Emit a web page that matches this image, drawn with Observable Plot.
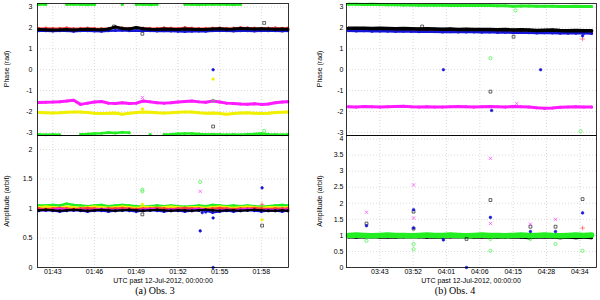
<!DOCTYPE html>
<html><head><meta charset="utf-8">
<script src="https://cdn.jsdelivr.net/npm/d3@7"></script>
<script src="https://cdn.jsdelivr.net/npm/@observablehq/plot@0.6"></script>
<style>
body{margin:0;background:#fff;}
#fig{position:relative;width:600px;height:300px;overflow:hidden;background:#fff;font-family:"Liberation Sans",Arial,sans-serif;}
.p{position:absolute;}
.lab{position:absolute;font-size:7px;white-space:nowrap;transform:translate(-50%,-50%);color:#000;}
.ylab{transform:translate(-50%,-50%) rotate(-90deg);}
.cap{position:absolute;font-family:"Liberation Serif","Times New Roman",serif;font-size:10px;white-space:nowrap;transform:translate(-50%,-50%);color:#000;}
</style></head>
<body><div id="fig"></div>
<script>
// ---------- tick labels ----------
const phaseTicks = [-3,-2,-1,0,1,2,3];
const leftAmpTicks = [0,0.5,1,1.5,2];
const rightAmpTicks = [0,0.5,1,1.5,2,2.5,3,3.5,4];
const leftXTicks = [3,6,9,12,15,18];            // minutes after 01:40
const leftXLabels = ["01:43","01:46","01:49","01:52","01:55","01:58"];
const rightXTicks = [43,51.5,60,68.5,77,85.5,94]; // minutes after 03:00
const rightXLabels = ["03:43","03:52","04:01","04:06","04:15","04:28","04:34"];

// ---------- Obs. 3 sample times (min after 01:40) ----------
const leftT = [2,2.5,3,3.5,4,4.5,5,5.5,6,6.5,7,7.5,8,8.5,9,9.5,10,10.5,11,11.5,12,12.5,13,13.5,14,14.5,15,15.5,16,16.5,17,17.5,18,18.5,19,19.5,19.9];

// Obs. 3 phase (rad)
const l_ph_greenTop = [3.12,3.12,null,null,3.12,3.13,3.12,3.11,3.12,null, null,null,3.12,null,3.12,3.12,3.11,3.12,null,null, null,3.12,3.12,3.11,3.12,3.12,3.13,3.12,3.11,3.12, null,null,null,null,null,null,null];
const l_ph_greenBot = [-3.10,-3.11,-3.10,-3.11,null,null,-3.09,-3.08,-3.06,-3.04, -3.01,-3.03,-3.00,-3.02,null,null,-3.10,null,-3.10,-3.09, -3.07,-3.05,-3.06,-3.08,-3.10,-3.09,-3.10,-3.11,-3.10,-3.11, -3.09,-3.08,-3.06,-3.09,-3.10,-3.11,-3.10];
const l_ph_red = [1.99,2.00,1.98,1.99,2.01,1.97,1.99,2.00,1.98,1.97, 1.99,2.02,2.01,1.99,2.01,2.00,1.98,1.99,2.01,2.00, 1.99,2.02,2.00,1.99,1.98,2.00,2.01,1.99,2.00,2.02, 2.01,2.00,1.99,2.00,2.01,1.99,2.00];
const l_ph_black = [1.92,1.91,1.90,1.91,1.93,1.90,1.92,1.94,1.92,1.91, 1.95,2.05,1.97,1.95,2.02,1.96,1.94,1.93,1.95,1.94, 1.93,1.95,1.94,1.92,1.93,1.95,1.96,1.94,1.95,1.97, 1.96,1.95,1.96,1.95,1.94,1.95,1.94];
const l_ph_blue = [1.87,1.86,1.85,1.86,1.87,1.84,1.86,1.87,1.85,1.84, 1.86,1.88,1.89,1.87,1.88,1.87,1.86,1.85,1.86,1.85, 1.84,1.83,1.84,1.85,1.84,1.86,1.87,1.86,1.85,1.87, 1.86,1.85,1.86,1.87,1.86,1.85,1.86];
const l_ph_magenta = [-1.57,-1.56,-1.55,-1.53,-1.50,-1.46,-1.66,-1.60,-1.55,-1.52, -1.60,-1.62,-1.58,-1.62,-1.60,-1.50,-1.54,-1.58,-1.60,-1.58, -1.55,-1.52,-1.50,-1.54,-1.56,-1.50,-1.55,-1.60,-1.62,-1.64, -1.65,-1.63,-1.66,-1.64,-1.58,-1.55,-1.54];
const l_ph_yellow = [-2.05,-2.06,-2.07,-2.06,-2.04,-2.02,-2.02,-2.05,-2.08,-2.10, -2.09,-2.07,-2.13,-2.09,-2.05,-2.03,-2.04,-2.06,-2.07,-2.06, -2.04,-2.02,-2.03,-2.06,-2.08,-2.07,-2.10,-2.13,-2.10,-2.07, -2.06,-2.08,-2.10,-2.08,-2.05,-2.04,-2.03];
const l_ph_outT = [18.2,9.44,7.4,14.53,14.53,9.44,9.44,14.53,18.2,14.53];
const l_ph_outV = [2.24,1.72,2.07,0,-0.45,-1.33,-1.88,-2.72,-2.93,-1.48];
const l_ph_outS = ["black","black","black","blue","yellow","magenta","yellow","black","green","green"];

// Obs. 3 amplitude (arbit)
const l_am_green = [1.05,1.05,1.06,1.05,1.08,1.06,1.05,1.04,1.05,1.06, 1.04,1.05,1.06,1.05,1.04,1.03,1.04,1.05,1.04,1.05, 1.04,1.03,1.04,1.05,1.04,1.06,1.05,1.04,1.05,1.04, 1.05,1.04,1.03,1.04,1.05,1.06,1.05];
const l_am_yellow = [1.02,1.03,1.02,1.01,1.03,1.02,1.01,1.02,1.03,1.02, 1.01,1.02,1.03,1.02,1.01,1.02,1.02,1.01,1.02,1.03, 1.02,1.01,1.02,1.02,1.01,1.02,1.03,1.02,1.01,1.02, 1.03,1.02,1.01,1.02,1.02,1.01,1.02];
const l_am_red = [1.00,0.99,1.00,1.01,1.00,0.99,1.00,1.01,1.00,0.99, 1.00,1.00,1.01,1.00,0.99,1.00,1.00,1.01,1.00,0.99, 1.00,1.01,1.00,1.00,0.99,1.00,1.01,1.00,0.99,1.00, 1.00,1.01,1.00,0.99,1.00,1.00,1.00];
const l_am_magenta = [0.98,0.97,0.98,0.99,0.98,0.97,0.98,0.97,0.98,0.99, 0.98,0.97,0.98,0.98,0.97,0.98,0.99,0.98,0.97,0.98, 0.98,0.97,0.98,0.99,0.98,0.96,0.97,0.98,0.97,0.98, 0.99,0.98,0.97,0.98,0.97,0.98,0.98];
const l_am_black = [0.97,0.98,0.97,0.96,0.97,0.98,0.97,0.96,0.97,0.98, 0.97,0.96,0.97,0.98,0.97,0.96,0.97,0.98,0.97,0.96, 0.97,0.97,0.96,0.97,0.98,0.97,0.96,0.97,0.97,0.96, 0.97,0.98,0.97,0.96,0.96,0.97,0.96];
const l_am_blue = [0.96,0.97,0.96,0.95,0.96,0.97,0.96,0.95,0.96,0.96, 0.95,0.96,0.97,0.96,0.95,0.96,0.97,0.96,0.95,0.96, 0.96,0.95,0.96,0.97,0.96,0.93,0.95,0.96,0.95,0.96, 0.97,0.96,0.95,0.96,0.96,0.95,0.96];
const l_am_outT = [9.44,9.44,9.44,9.44,13.6,13.6,13.6,13.75,14.0,14.53,14.53,18.05,18.05,18.05,18.05];
const l_am_outV = [1.32,1.29,0.9,1.07,1.45,1.29,0.62,0.93,0.94,0.84,0,1.35,1.07,0.81,0.71];
const l_am_outS = ["green","green","black","yellow","green","magenta","blue","blue","blue","blue","blue","blue","red","yellow","black"];

// ---------- Obs. 4 sample times (min after 03:00) ----------
const rightT = [35,37,39,41,43,45,47,49,51,53,55,57,59,61,63,65,67,69,71,73,75,77,79,81,83,85,87,89,91,93,95,97];

// Obs. 4 phase (rad)
const r_ph_green = [3.13,3.13,3.12,3.13,3.12,3.11,3.11,3.10,3.10,3.09, 3.10,3.09,3.09,3.08,3.08,3.08,3.07,3.08,3.07,3.06, 3.06,3.04,3.05,3.05,3.04,3.04,3.04,3.03,3.03,3.04, 3.03,3.03];
const r_ph_black = [1.99,1.98,1.99,1.97,1.98,1.97,1.96,1.97,1.96,1.95, 1.96,1.95,1.94,1.95,1.93,1.94,1.93,1.92,1.93,1.91, 1.92,1.90,1.91,1.90,1.88,1.89,1.90,1.88,1.87,1.88, 1.87,1.86];
const r_ph_red = [1.92,1.93,1.92,1.91,1.92,1.91,1.90,1.91,1.90,1.90, 1.89,1.90,1.89,1.88,1.88,1.87,1.88,1.87,1.86,1.86, 1.85,1.85,1.84,1.84,1.83,1.84,1.83,1.82,1.82,1.81, 1.80,1.80];
const r_ph_blue = [1.86,1.85,1.86,1.84,1.85,1.84,1.83,1.84,1.83,1.82, 1.83,1.82,1.81,1.82,1.80,1.81,1.80,1.79,1.80,1.78, 1.79,1.77,1.78,1.77,1.76,1.77,1.76,1.75,1.74,1.75, 1.74,1.73];
const r_ph_magenta = [-1.77,-1.78,-1.76,-1.77,-1.78,-1.77,-1.76,-1.75,-1.77,-1.78, -1.77,-1.79,-1.78,-1.77,-1.76,-1.77,-1.78,-1.77,-1.76,-1.77, -1.78,-1.76,-1.77,-1.78,-1.82,-1.84,-1.83,-1.80,-1.78,-1.77, -1.78,-1.79];
const r_ph_outT = [59.2,84,71.2,71.2,71.5,77.1,77.9,77.6,94.2,94.7,94.7,53.8];
const r_ph_outV = [0,0,0.55,-1.05,-1.95,1.58,-1.62,2.84,-2.95,1.62,1.47,2.07];
const r_ph_outS = ["blue","blue","green","black","blue","black","magenta","green","green","blue","red","black"];

// Obs. 4 amplitude (arbit)
const r_am_green = [1.00,1.01,1.00,0.99,1.00,1.01,1.00,1.00,0.99,1.00, 1.01,1.00,1.00,1.01,1.00,0.99,1.00,1.01,1.00,1.00, 0.99,1.00,1.01,1.00,1.00,1.01,1.00,0.99,1.00,1.01, 1.00,1.01];
const r_am_black = [0.95,0.94,0.95,0.96,0.94,0.95,0.94,0.95,0.96,0.95, 0.94,0.95,0.94,0.95,0.96,0.95,0.94,0.95,0.94,0.95, 0.94,0.95,0.94,0.93,0.94,0.95,0.94,0.93,0.94,0.93, 0.94,0.93];
const r_am_outT = [39.6,39.6,39.6,39.6, 51.6,51.6,51.6,51.6,51.6,51.6,51.6,51.6, 59.2, 65.1,65.1, 71.2,71.2,71.2,71.2,71.2,71.2, 81.4,81.4,81.4,81.4, 87.8,87.8,87.8,87.8, 94.7,94.7,94.7,94.7];
const r_am_outV = [1.72,1.37,1.30,0.83, 2.57,1.80,1.74,1.54,1.23,1.21,0.73,0.57, 0.86, 0.89,0, 3.4,2.1,1.56,1.37,0.89,0.52, 1.35,1.27,1.12,0.89, 1.5,1.27,1.12,0.73, 2.13,1.7,1.23,0.52];
const r_am_outS = ["magenta","black","blue","green", "magenta","blue","black","magenta","blue","black","green","green", "blue", "black","blue", "magenta","black","blue","magenta","green","green", "magenta","black","blue","green", "magenta","black","blue","green", "black","blue","red","green"];

// ---------- styling ----------
const COLORS = {green:"#22ee22", red:"#ff3a3a", black:"#000000", blue:"#1515d8", magenta:"#ff1aff", yellow:"#f0f000"};
const SYMBOLS = {green:"circle", red:"plus", black:"square", blue:"circle", magenta:"times", yellow:"circle"};
const FILLED = {blue:true, yellow:true};

function panel(o) {
  const grid = {stroke:"#999", strokeOpacity:0.6, strokeDasharray:"1,2", strokeWidth:0.6};
  const marks = [Plot.gridX(o.xTicks, grid), Plot.gridY(o.yTicks, grid)];
  for (const b of o.bands) {
    const rows = o.t.map((t, i) => ({t, v: b.values[i]}));
    marks.push(Plot.line(rows, {x:"t", y:"v", stroke: COLORS[b.s], strokeWidth: b.w || 2.5}));
    marks.push(Plot.dot(rows.filter(d => d.v != null), {x:"t", y:"v", r:1.5, fill: COLORS[b.s], stroke:"none"}));
  }
  const out = o.outT.map((t, i) => ({t, v: o.outV[i], s: o.outS[i]}));
  for (const s of Object.keys(COLORS)) {
    const d = out.filter(p => p.s === s);
    if (!d.length) continue;
    marks.push(Plot.dot(d, {x:"t", y:"v", symbol: SYMBOLS[s], r: FILLED[s] ? 1.3 : 1.6,
      stroke: COLORS[s], fill: FILLED[s] ? COLORS[s] : "none", strokeWidth: 0.6}));
  }
  marks.push(Plot.frame({stroke:"#000", strokeWidth:0.8}));
  marks.push(Plot.axisY(o.yTicks, {tickSize:0, tickPadding:o.yPad, tickFormat: d => String(d), label:null, fontSize:7}));
  if (o.xLabels) {
    const m = new Map(o.xTicks.map((d, i) => [d, o.xLabels[i]]));
    marks.push(Plot.axisX(o.xTicks, {tickSize:0, tickPadding:2, tickFormat: d => m.get(d), label:null, fontSize:7}));
  }
  return Plot.plot({
    width: 300, height: o.height,
    marginLeft: o.ml, marginRight: o.mr, marginTop: o.mt, marginBottom: o.mb,
    x: {domain: o.xDomain, axis: null},
    y: {domain: o.yDomain, axis: null},
    style: {background:"transparent", fontFamily:'"Liberation Sans", Arial, sans-serif', fontSize:"7px", overflow:"visible"},
    marks
  });
}

const fig = document.getElementById("fig");
function mount(el, left, top) {
  const d = document.createElement("div");
  d.className = "p"; d.style.left = left + "px"; d.style.top = top + "px";
  d.appendChild(el); fig.appendChild(d);
}
function text(cls, str, x, y) {
  const d = document.createElement("div");
  d.className = cls; d.textContent = str;
  d.style.left = x + "px"; d.style.top = y + "px";
  fig.appendChild(d);
}

const leftDomain = [1.9, 19.95];
const rightDomain = [34.5, 98.25];
const phaseDomain = [-3.15, 3.17];

mount(panel({
  t: leftT, xDomain: leftDomain, xTicks: leftXTicks, yDomain: phaseDomain, yTicks: phaseTicks,
  height: 138, ml: 37, mr: 12, mt: 3, mb: 3, yPad: 5,
  bands: [
    {s:"green", values:l_ph_greenTop}, {s:"green", values:l_ph_greenBot},
    {s:"yellow", values:l_ph_yellow, w:3}, {s:"magenta", values:l_ph_magenta, w:3},
    {s:"red", values:l_ph_red, w:1.5}, {s:"blue", values:l_ph_blue}, {s:"black", values:l_ph_black, w:3}
  ],
  outT: l_ph_outT, outV: l_ph_outV, outS: l_ph_outS
}), 0, 0);

mount(panel({
  t: leftT, xDomain: leftDomain, xTicks: leftXTicks, xLabels: leftXLabels,
  yDomain: [0, 2.237], yTicks: leftAmpTicks,
  height: 150, ml: 37, mr: 12, mt: 5, mb: 13, yPad: 5,
  bands: [
    {s:"green", values:l_am_green, w:2.5}, {s:"yellow", values:l_am_yellow, w:2.5},
    {s:"red", values:l_am_red, w:2}, {s:"magenta", values:l_am_magenta, w:2},
    {s:"blue", values:l_am_blue, w:2}, {s:"black", values:l_am_black, w:2}
  ],
  outT: l_am_outT, outV: l_am_outV, outS: l_am_outS
}), 0, 130);

mount(panel({
  t: rightT, xDomain: rightDomain, xTicks: rightXTicks, yDomain: phaseDomain, yTicks: phaseTicks,
  height: 138, ml: 46, mr: 4, mt: 3, mb: 3, yPad: 3,
  bands: [
    {s:"green", values:r_ph_green, w:3}, {s:"magenta", values:r_ph_magenta, w:3},
    {s:"red", values:r_ph_red}, {s:"blue", values:r_ph_blue}, {s:"black", values:r_ph_black, w:3.5}
  ],
  outT: r_ph_outT, outV: r_ph_outV, outS: r_ph_outS
}), 300, 0);

mount(panel({
  t: rightT, xDomain: rightDomain, xTicks: rightXTicks, xLabels: rightXLabels,
  yDomain: [0, 4.11], yTicks: rightAmpTicks,
  height: 150, ml: 46, mr: 4, mt: 5, mb: 13, yPad: 3,
  bands: [
    {s:"black", values:r_am_black, w:3}, {s:"green", values:r_am_green, w:5.5}
  ],
  outT: r_am_outT, outV: r_am_outV, outS: r_am_outS
}), 300, 130);

// axis titles and captions
text("lab ylab", "Phase (rad)", 6, 69);
text("lab ylab", "Amplitude (arbit)", 6, 201);
text("lab ylab", "Phase (rad)", 319, 69);
text("lab ylab", "Amplitude (arbit)", 319, 201);
text("lab", "UTC past 12-Jul-2012, 00:00:00", 163, 280);
text("lab", "UTC past 12-Jul-2012, 00:00:00", 471, 280);
text("cap", "(a) Obs. 3", 155, 290);
text("cap", "(b) Obs. 4", 455, 290);
</script></body></html>
